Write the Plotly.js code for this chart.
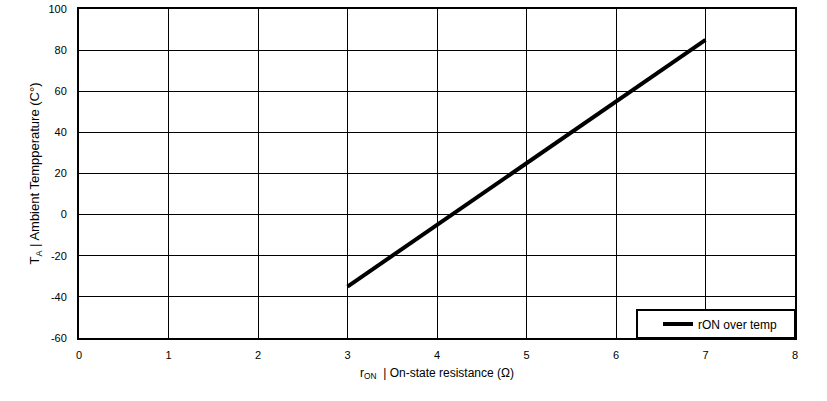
<!DOCTYPE html>
<html>
<head>
<meta charset="utf-8">
<script src="https://cdn.plot.ly/plotly-3.0.1.min.js"></script>
<style>html,body{margin:0;padding:0;background:#fff;}#chart{width:827px;height:401px;}</style>
</head>
<body>
<div id="chart"></div>
<script>
const rOn = [3, 4, 5, 6, 7];
const tempC = [-35, -5, 25, 55, 85];
const seriesName = 'rON over temp';
const xTitle = 'r<sub>ON</sub>  | On-state resistance (Ω)';
const yTitle = 'T<sub>A</sub> | Ambient Tempperature (C°)';
const yTickVals = [-60, -40, -20, 0, 20, 40, 60, 80, 100];
const yTickText = ['-60', '-40', '-20', '0', '20', '40', '60', '80', '100'];
const xTickVals = [0, 1, 2, 3, 4, 5, 6, 7, 8];

const font = {family: 'Liberation Sans, Arial, sans-serif', color: '#000'};

const data = [{
  x: rOn, y: tempC, type: 'scatter', mode: 'lines', name: seriesName,
  line: {color: '#000', width: 4}, showlegend: true
}];

const layout = {
  width: 827, height: 401,
  margin: {l: 79, r: 32, t: 9, b: 63},
  paper_bgcolor: '#fff', plot_bgcolor: '#fff',
  font: Object.assign({size: 11}, font),
  showlegend: true,
  xaxis: {
    range: [0, 8], tickvals: xTickVals, ticktext: xTickVals.map(String),
    showgrid: true, gridcolor: '#000', gridwidth: 1,
    zeroline: false, showline: true, linecolor: '#000', linewidth: 2, mirror: true,
    ticks: 'outside', ticklen: 6, tickcolor: 'rgba(0,0,0,0)',
    tickfont: Object.assign({size: 11}, font),
    title: {text: xTitle, font: Object.assign({size: 12}, font), standoff: 8}
  },
  yaxis: {
    range: [-60, 100], tickvals: yTickVals, ticktext: yTickText,
    showgrid: true, gridcolor: '#000', gridwidth: 1,
    zeroline: false, showline: true, linecolor: '#000', linewidth: 2, mirror: true,
    ticks: 'outside', ticklen: 8, tickcolor: 'rgba(0,0,0,0)',
    tickfont: Object.assign({size: 11}, font),
    title: {text: yTitle, font: Object.assign({size: 13}, font), standoff: 6}
  },
  shapes: [{
    type: 'rect', xref: 'paper', yref: 'paper',
    x0: (637 - 79) / 716, x1: 1, y0: 0, y1: 28 / 329,
    line: {color: '#000', width: 2}, fillcolor: '#fff', layer: 'above'
  }],
  legend: {
    x: (658 - 79) / 716, xanchor: 'left', y: 14 / 329, yanchor: 'middle',
    bgcolor: 'rgba(0,0,0,0)', borderwidth: 0,
    font: Object.assign({size: 12}, font),
    itemwidth: 30
  }
};

Plotly.newPlot('chart', data, layout, {displayModeBar: false, staticPlot: true});
</script>
</body>
</html>
